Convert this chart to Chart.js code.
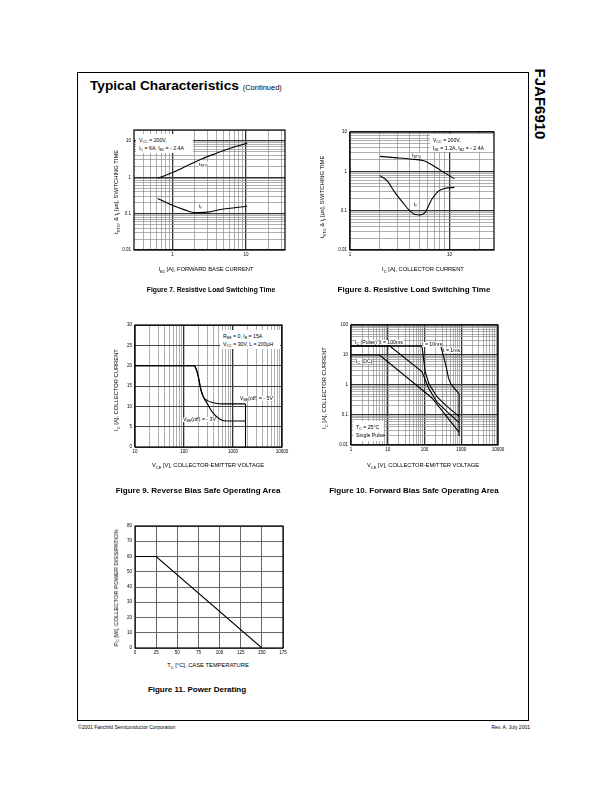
<!DOCTYPE html>
<html>
<head>
<meta charset="utf-8">
<script src="https://cdn.jsdelivr.net/npm/chart.js@4"></script>
<style>
body{margin:0;width:612px;height:792px;position:relative;background:#fff;color:#000;
  font-family:"Liberation Sans",Arial,sans-serif;overflow:hidden}
.frame{position:absolute;left:77px;top:72px;width:450px;height:647px;border:1px solid #000}
canvas{position:absolute}
.t{position:absolute;white-space:nowrap;line-height:1}
.c{transform:translate(-50%,-50%)}
.rot{transform:translate(-50%,-50%) rotate(-90deg)}
.ax{font-size:5.8px}
.cap{font-size:8px;font-weight:bold}
.lab{font-size:5.2px;background:#fff}
.box{position:absolute;background:#fff;font-size:5.2px;line-height:8px;white-space:nowrap;box-sizing:border-box}
sub{font-size:70%;vertical-align:-0.35em;line-height:0}
</style>
</head>
<body>
<div class="frame"></div>
<div class="t" style="left:90px;top:79px;font-size:13.7px;font-weight:bold">Typical Characteristics <span style="font-size:7.5px;font-weight:normal">(Continued)</span></div>
<div class="t" style="left:540px;top:104px;font-size:15px;font-weight:bold;transform:translate(-50%,-50%) rotate(90deg)">FJAF6910</div>

<canvas id="fig7"></canvas>
<canvas id="fig8"></canvas>
<canvas id="fig9"></canvas>
<canvas id="fig10"></canvas>
<canvas id="fig11"></canvas>

<!-- figure 7 -->
<div class="box" style="left:136px;top:134px;width:57px;height:19px;padding:2px 0 0 3px">V<sub>CC</sub> = 200V,<br>I<sub>C</sub> = 6A, I<sub>B2</sub> = - 2.4A</div>
<div class="t lab" style="left:199px;top:162px">t<sub>STG</sub></div>
<div class="t lab" style="left:199px;top:204px">t<sub>f</sub></div>
<div class="t ax c" style="left:206px;top:270px">I<sub>B1</sub> [A], FORWARD BASE CURRENT</div>
<div class="t ax rot" style="left:117px;top:192px">t<sub>STG</sub>, &amp; t<sub>f</sub> [µs], SWITCHING TIME</div>
<div class="t cap c" style="left:211px;top:290px;transform:translate(-50%,-50%) scaleX(0.84)">Figure 7. Resistive Load Switching Time</div>

<!-- figure 8 -->
<div class="box" style="left:430px;top:134px;width:63px;height:18px;padding:2px 0 0 3px">V<sub>CC</sub> = 200V,<br>I<sub>B1</sub> = 1.2A, I<sub>B2</sub> = - 2.4A</div>
<div class="t lab" style="left:412px;top:153px">t<sub>STG</sub></div>
<div class="t lab" style="left:414px;top:202px">t<sub>f</sub></div>
<div class="t ax c" style="left:423px;top:270px">I<sub>C</sub> [A], COLLECTOR CURRENT</div>
<div class="t ax rot" style="left:323px;top:197px">t<sub>STG</sub> &amp; t<sub>f</sub> [µs], SWITCHING TIME</div>
<div class="t cap c" style="left:414px;top:290px">Figure 8. Resistive Load Switching Time</div>

<!-- figure 9 -->
<div class="box" style="left:220px;top:330px;width:60px;height:19px;padding:2px 0 0 3px">R<sub>BE</sub> = 0, I<sub>B</sub> = 15A<br>V<sub>CC</sub> = 30V, L = 200µH</div>
<div class="t lab" style="left:240px;top:396px">V<sub>BE</sub>(off) = - 5V</div>
<div class="t lab" style="left:183px;top:417px">V<sub>BE</sub>(off) = - 3V</div>
<div class="t ax c" style="left:208px;top:466px">V<sub>CE</sub> [V], COLLECTOR-EMITTER VOLTAGE</div>
<div class="t ax rot" style="left:117px;top:390px">I<sub>C</sub> [A], COLLECTOR CURRENT</div>
<div class="t cap c" style="left:198px;top:491px">Figure 9. Reverse Bias Safe Operating Area</div>

<!-- figure 10 -->
<div class="t lab" style="left:355px;top:340px">I<sub>C</sub> (Pulse)</div>
<div class="t lab" style="left:380px;top:340px">t = 100ms</div>
<div class="t lab" style="left:422px;top:342px">t = 10ms</div>
<div class="t lab" style="left:443px;top:348px">t = 1ms</div>
<div class="t lab" style="left:356px;top:359px">I<sub>C</sub> (DC)</div>
<div class="box" style="left:353px;top:421px;width:31px;height:20px;padding:2px 0 0 3px">T<sub>C</sub> = 25°C<br>Single Pulse</div>
<div class="t ax c" style="left:423px;top:466px">V<sub>CE</sub> [V], COLLECTOR-EMITTER VOLTAGE</div>
<div class="t ax rot" style="left:325px;top:388px">I<sub>C</sub> [A], COLLECTOR CURRENT</div>
<div class="t cap c" style="left:414px;top:491px">Figure 10. Forward Bias Safe Operating Area</div>

<!-- figure 11 -->
<div class="t ax c" style="left:208px;top:666px">T<sub>C</sub> [°C], CASE TEMPERATURE</div>
<div class="t ax rot" style="left:117px;top:588px">P<sub>C</sub> [W], COLLECTOR POWER DISSIPATION</div>
<div class="t cap c" style="left:197px;top:690px">Figure 11. Power Derating</div>

<div class="t" style="left:78px;top:725px;font-size:5px">©2001 Fairchild Semiconductor Corporation</div>
<div class="t" style="right:82px;top:725px;font-size:5px">Rev. A, July 2001</div>

<script>
// === DATA ===
// Fig 7: switching time vs IB1
const f7TstgX = [0.63, 1, 1.6, 2.5, 4, 6.3, 10.4];
const f7TstgY = [0.94, 1.35, 2.1, 3.2, 4.6, 6.4, 8.7];
const f7TfX   = [0.63, 1, 1.5, 2, 3, 4.5, 10.4];
const f7TfY   = [0.26, 0.17, 0.125, 0.107, 0.11, 0.13, 0.16];
// Fig 8: switching time vs IC
const f8TstgX = [2, 3, 4, 5.5, 7, 9, 11.2];
const f8TstgY = [2.4, 2.2, 2.05, 1.85, 1.35, 0.9, 0.65];
const f8TfX   = [2, 2.4, 2.8, 3.4, 3.9, 4.5, 5.1, 5.7, 6.6, 7.7, 9, 11.2];
const f8TfY   = [0.78, 0.55, 0.3, 0.16, 0.105, 0.08, 0.078, 0.09, 0.19, 0.31, 0.37, 0.39];
// Fig 9: RBSOA
const f9M5X = [10, 160, 185, 200, 220, 250, 300, 400, 600, 1800];
const f9M5Y = [20, 20, 18.5, 16.8, 14.2, 12.3, 11.4, 10.9, 10.6, 10.6];
const f9M3X = [10, 160, 185, 200, 220, 250, 300, 373, 513, 707, 1800];
const f9M3Y = [20, 20, 18.5, 16.8, 14.2, 12.2, 10.6, 8.7, 7.0, 6.4, 6.4];
const f9EdgeX = [1800, 1800];
const f9EdgeY = [10.6, 0];
// Fig 10: FBSOA
const f10DcX   = [1, 6, 160, 870];
const f10DcY   = [10, 10, 0.37, 0.027];
const f10T100X = [1, 11.4, 85, 130, 220, 417, 870];
const f10T100Y = [20, 20, 2.8, 0.77, 0.27, 0.127, 0.056];
const f10T10X  = [1, 85, 105, 130, 220, 417, 870];
const f10T10Y  = [20, 20, 2.8, 1.13, 0.4, 0.19, 0.09];
const f10T1X   = [1, 275, 330, 390, 450, 520, 680, 870];
const f10T1Y   = [20, 20, 9, 4, 1.7, 1.1, 0.72, 0.52];
const f10EdgeX = [870, 870];
const f10EdgeY = [0.52, 0.02];
// Fig 11: power derating
const f11X = [0, 25, 150];
const f11Y = [60, 60, 0];

// === CHART HELPERS ===
const PAD_L = 22, PAD_T = 6, PAD_R = 14, PAD_B = 12;
const TICK_FONT = {family:'Liberation Sans', size:4.5};
const MAJOR = '#333', MINOR = '#8c8c8c';

function isDecade(v) { const l = Math.log10(v); return Math.abs(l - Math.round(l)) < 1e-9; }
function logTicks(min, max) {
  const out = [];
  for (let e = Math.floor(Math.log10(min)); e <= Math.ceil(Math.log10(max)); e++)
    for (let k = 1; k < 10; k++) {
      const v = parseFloat((k * Math.pow(10, e)).toPrecision(6));
      if (v >= min * 0.9999 && v <= max * 1.0001) out.push({value:v});
    }
  return out;
}
function logAxis(min, max, pad) {
  return {type:'logarithmic', min, max,
    afterBuildTicks: s => { s.ticks = logTicks(min, max); },
    ticks:{font:TICK_FONT, color:'#000', autoSkip:false, maxRotation:0, padding:pad,
      callback: v => isDecade(v) ? String(v) : ''},
    grid:{drawTicks:false,
      color: c => (c.tick && isDecade(c.tick.value)) ? MAJOR : MINOR,
      lineWidth: c => (c.tick && isDecade(c.tick.value)) ? 1.3 : 0.7},
    border:{display:false}};
}
function linAxis(min, max, step, color, width, pad) {
  return {type:'linear', min, max,
    ticks:{stepSize:step, font:TICK_FONT, color:'#000', autoSkip:false, maxRotation:0, padding:pad},
    grid:{drawTicks:false, color, lineWidth:width},
    border:{display:false}};
}
function curve(xs, ys, smooth) {
  return {data: xs.map((x, i) => ({x, y: ys[i]})), showLine:true, borderColor:'#000',
    borderWidth:1.1, pointRadius:0, fill:false, tension:0,
    cubicInterpolationMode: smooth ? 'monotone' : 'default'};
}
const framePlugin = {id:'frame', afterDatasetsDraw(chart) {
  const {ctx, chartArea:a} = chart;
  ctx.save(); ctx.strokeStyle = '#000'; ctx.lineWidth = 1.2;
  ctx.strokeRect(a.left, a.top, a.right - a.left, a.bottom - a.top);
  ctx.restore();
}};
function mkChart(id, area, xAxis, yAxis, datasets) {
  const [L, T, R, B] = area;
  const cv = document.getElementById(id);
  cv.width = R - L + PAD_L + PAD_R; cv.height = B - T + PAD_T + PAD_B;
  cv.style.left = (L - PAD_L) + 'px'; cv.style.top = (T - PAD_T) + 'px';
  xAxis.afterFit = s => { s.height = PAD_B; };
  yAxis.afterFit = s => { s.width = PAD_L; };
  return new Chart(cv, {type:'scatter', data:{datasets},
    options:{responsive:false, animation:false, events:[],
      layout:{padding:{left:0, top:PAD_T, right:PAD_R, bottom:0}},
      plugins:{legend:{display:false}, tooltip:{enabled:false}},
      scales:{x:xAxis, y:yAxis}},
    plugins:[framePlugin]});
}

mkChart('fig7', [134, 130, 285, 250], logAxis(0.32, 34, 2), logAxis(0.01, 20, 3),
  [curve(f7TstgX, f7TstgY, true), curve(f7TfX, f7TfY, true)]);
mkChart('fig8', [350, 132, 494, 250], logAxis(1, 28, 2), logAxis(0.01, 10, 3),
  [curve(f8TstgX, f8TstgY, true), curve(f8TfX, f8TfY, true)]);
mkChart('fig9', [135, 325, 282, 447], logAxis(10, 10000, 2), linAxis(0, 30, 5, '#444', 1, 3),
  [curve(f9M5X, f9M5Y, true), curve(f9M3X, f9M3Y, true), curve(f9EdgeX, f9EdgeY, false)]);
mkChart('fig10', [351, 325, 498, 445], logAxis(1, 10000, 2), logAxis(0.01, 100, 3),
  [curve(f10DcX, f10DcY, false), curve(f10T100X, f10T100Y, false),
   curve(f10T10X, f10T10Y, false), curve(f10T1X, f10T1Y, false), curve(f10EdgeX, f10EdgeY, false)]);
mkChart('fig11', [135, 526, 283, 648], linAxis(0, 175, 25, '#666', 1, 2), linAxis(0, 80, 10, '#666', 1, 3),
  [curve(f11X, f11Y, false)]);
</script>
</body>
</html>
